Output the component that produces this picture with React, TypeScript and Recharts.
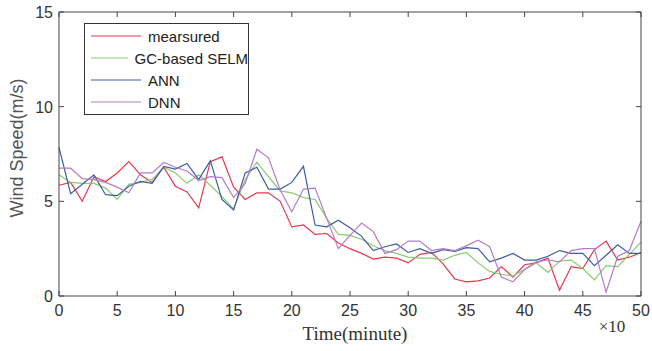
import React from 'react'
import { LineChart, Line, XAxis, YAxis } from 'recharts'

const minutes = Array.from({ length: 51 }, (_, i) => i)
const xTicks = [0, 5, 10, 15, 20, 25, 30, 35, 40, 45, 50]
const yTicks = [0, 5, 10, 15]

const measured = [
  5.85, 6.0, 5.0, 6.3, 6.05, 6.5, 7.1, 6.4, 6.0, 6.8,
  5.8, 5.5, 4.65, 7.1, 7.35, 5.75, 5.1, 5.45, 5.45, 5.0,
  3.65, 3.75, 3.25, 3.3, 2.8, 2.5, 2.25, 1.95, 2.05, 2.0,
  1.75, 2.2, 2.3, 1.7, 0.9, 0.75, 0.8, 0.95, 1.55, 1.0,
  1.65, 1.75, 2.0, 0.3, 1.55, 1.45, 2.45, 2.9, 1.9, 2.05, 2.3,
]
const gcSelm = [
  6.4, 6.0, 5.95, 5.95, 5.7, 5.1, 5.9, 6.0, 6.15, 6.8,
  6.5, 5.95, 6.4, 5.85, 5.25, 4.6, 6.15, 7.07, 6.3, 5.55,
  5.45, 5.2, 5.1, 4.1, 3.25, 3.2, 3.0, 2.65, 2.4, 2.25,
  2.05, 2.0, 2.0, 1.9, 2.15, 2.3, 1.75, 1.3, 1.15, 1.05,
  1.4, 1.75, 1.25, 1.85, 1.9, 1.45, 0.85, 1.6, 1.55, 2.2, 2.85,
]
const ann = [
  7.85, 5.4, 5.9, 6.4, 5.35, 5.3, 5.8, 6.05, 5.95, 6.85,
  6.7, 7.0, 6.15, 7.15, 5.1, 4.55, 6.5, 6.8, 5.65, 5.65,
  6.0, 6.85, 3.75, 3.65, 4.0, 3.6, 3.15, 2.4, 2.6, 2.75,
  2.3, 2.5, 2.25, 2.45, 2.35, 2.55, 2.5, 1.8, 2.0, 2.25,
  1.9, 1.9, 2.1, 2.4, 2.25, 2.25, 1.6, 2.15, 2.7, 2.25, 2.25,
]
const dnn = [
  6.75, 6.75, 6.2, 6.15, 6.0, 5.75, 5.45, 6.5, 6.5, 7.05,
  6.8, 6.6, 6.1, 6.3, 6.25, 5.2, 5.95, 7.75, 7.3, 5.6,
  4.45, 5.65, 5.7, 4.1, 2.5, 3.2, 3.85, 3.4, 2.25, 2.45,
  2.9, 2.9, 2.4, 2.5, 2.4, 2.65, 2.95, 2.6, 1.0, 0.75,
  1.4, 1.8, 1.9, 1.8, 2.4, 2.5, 2.5, 0.2, 2.1, 2.4, 3.95,
]

const series = [
  { key: 'measured', name: 'mearsured', color: '#e6384f' },
  { key: 'gc', name: 'GC-based SELM', color: '#8acb70' },
  { key: 'ann', name: 'ANN', color: '#3c5ca6' },
  { key: 'dnn', name: 'DNN', color: '#b47ccb' },
]

const data = minutes.map((t, i) => ({
  t,
  measured: measured[i],
  gc: gcSelm[i],
  ann: ann[i],
  dnn: dnn[i],
}))

const AXIS = '#444'
const SANS = '"Liberation Sans", Arial, sans-serif'
const SERIF = '"Liberation Serif", "Times New Roman", serif'

const BottomTick = (props: any) => {
  const { x, y, payload } = props
  return (
    <g>
      <line x1={x} x2={x} y1={y} y2={y - 5} stroke={AXIS} />
      <text x={x} y={y + 20} textAnchor="middle" fontSize={16} fill="#333" fontFamily={SANS}>
        {payload.value}
      </text>
    </g>
  )
}

const LeftTick = (props: any) => {
  const { x, y, payload } = props
  return (
    <g>
      <line x1={x} x2={x + 5} y1={y} y2={y} stroke={AXIS} />
      <text x={x - 6} y={y + 6} textAnchor="end" fontSize={16} fill="#333" fontFamily={SANS}>
        {payload.value}
      </text>
    </g>
  )
}

const TopTick = (props: any) => {
  const { x, y } = props
  return <line x1={x} x2={x} y1={y} y2={y + 5} stroke={AXIS} />
}

const RightTick = (props: any) => {
  const { x, y } = props
  return <line x1={x} x2={x - 5} y1={y} y2={y} stroke={AXIS} />
}

export default function App() {
  return (
    <div style={{ position: 'absolute', left: 0, top: 0, width: 652, height: 351, background: '#fff' }}>
      <LineChart width={652} height={351} data={data} margin={{ top: 12, right: 11, left: 0, bottom: 25 }}>
        <XAxis
          dataKey="t"
          type="number"
          domain={[0, 50]}
          ticks={xTicks}
          stroke={AXIS}
          tickSize={0}
          tickMargin={0}
          height={30}
          tick={<BottomTick />}
        />
        <XAxis
          xAxisId="top"
          orientation="top"
          dataKey="t"
          type="number"
          domain={[0, 50]}
          ticks={xTicks}
          stroke={AXIS}
          tickSize={0}
          tickMargin={0}
          height={1}
          mirror
          tick={<TopTick />}
        />
        <YAxis
          type="number"
          domain={[0, 15]}
          ticks={yTicks}
          stroke={AXIS}
          tickSize={0}
          tickMargin={0}
          width={59}
          tick={<LeftTick />}
        />
        <YAxis
          yAxisId="right"
          orientation="right"
          type="number"
          domain={[0, 15]}
          ticks={yTicks}
          stroke={AXIS}
          tickSize={0}
          tickMargin={0}
          width={1}
          mirror
          tick={<RightTick />}
        />
        {series.map((s) => (
          <Line
            key={s.key}
            dataKey={s.key}
            name={s.name}
            stroke={s.color}
            strokeWidth={1.2}
            dot={false}
            isAnimationActive={false}
          />
        ))}
        <Line
          xAxisId="top"
          yAxisId="right"
          dataKey="measured"
          stroke="none"
          dot={false}
          legendType="none"
          isAnimationActive={false}
        />
      </LineChart>
      <div
        style={{
          position: 'absolute',
          left: 84,
          top: 23,
          width: 165,
          boxSizing: 'border-box',
          border: '1px solid #333',
          background: '#fff',
          padding: '1px 0',
          fontFamily: SANS,
          fontSize: 15,
          color: '#222',
        }}
      >
        {series.map((s) => (
          <div key={s.key} style={{ display: 'flex', alignItems: 'center', height: 22, whiteSpace: 'nowrap' }}>
            <svg width={50} height={4} style={{ marginLeft: 6, marginRight: 7 }}>
              <line x1={0} x2={50} y1={2} y2={2} stroke={s.color} strokeWidth={1.2} />
            </svg>
            <span>{s.name}</span>
          </div>
        ))}
      </div>
      <div
        style={{
          position: 'absolute',
          left: 17,
          top: 148,
          transform: 'translate(-50%, -50%) rotate(-90deg)',
          whiteSpace: 'nowrap',
          fontFamily: SANS,
          fontSize: 18,
          color: '#555',
        }}
      >
        Wind Speed(m/s)
      </div>
      <div
        style={{
          position: 'absolute',
          left: 355,
          top: 334,
          transform: 'translate(-50%, -50%)',
          whiteSpace: 'nowrap',
          fontFamily: SERIF,
          fontSize: 19,
          color: '#333',
        }}
      >
        Time(minute)
      </div>
      <div
        style={{
          position: 'absolute',
          left: 612,
          top: 327,
          transform: 'translate(-50%, -50%)',
          whiteSpace: 'nowrap',
          fontFamily: SERIF,
          fontSize: 17,
          color: '#333',
        }}
      >
        ×10
      </div>
    </div>
  )
}
